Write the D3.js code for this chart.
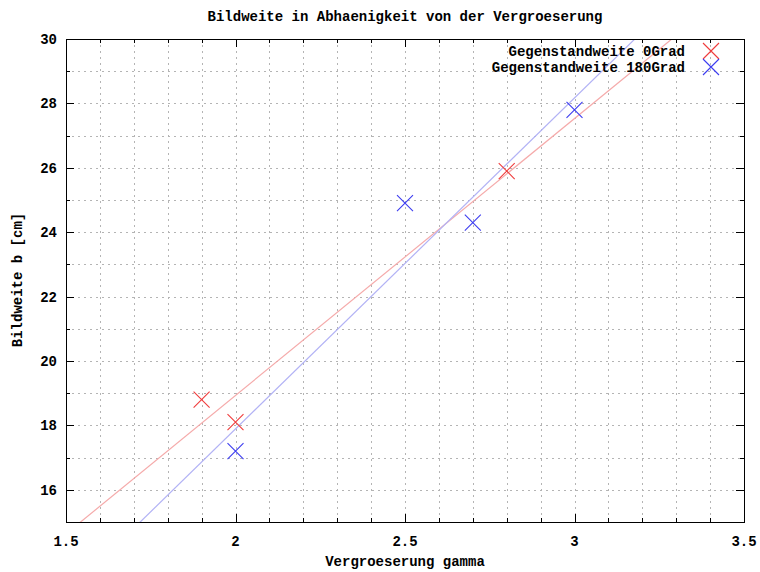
<!DOCTYPE html>
<html>
<head>
<meta charset="utf-8">
<script src="https://cdn.jsdelivr.net/npm/d3@7"></script>
<style>
  body { margin: 0; background: #fff; }
  text { font-family: "Liberation Mono", "DejaVu Sans Mono", monospace; font-weight: bold; font-size: 14px; fill: #000; }
  .grid line { stroke: #b4b4b4; stroke-width: 1; stroke-dasharray: 2,4; }
</style>
</head>
<body>
<svg id="chart" width="760" height="572"></svg>
<script>
// measured values (0 degree / 180 degree object distance)
const gamma0 = [1.9, 2.0, 2.8];
const bild0 = [18.8, 18.1, 25.9];
const gamma180 = [2.0, 2.5, 2.7, 3.0];
const bild180 = [17.2, 24.9, 24.3, 27.8];

// fitted lines: [slope, intercept]
const fit0 = [8.60, 1.73];
const fit180 = [10.28, -2.67];

const xTicks = [1.5, 2, 2.5, 3, 3.5];
const yTicks = [16, 18, 20, 22, 24, 26, 28, 30];

const seriesNames = ["Gegenstandweite 0Grad", "Gegenstandweite 180Grad"];

const svg = d3.select("#chart");
const mLeft = 66, mRight = 744, mTop = 39, mBottom = 522;

const x = d3.scaleLinear().domain([1.5, 3.5]).range([mLeft, mRight]);
const y = d3.scaleLinear().domain([15, 30]).range([mBottom, mTop]);

// grid at every minor tick
const xMinor = d3.range(16, 35).map(d => d / 10);
const yMinor = d3.range(16, 30);

const grid = svg.append("g").attr("class", "grid");
grid.selectAll("line.gx").data(xMinor).enter().append("line")
    .attr("x1", d => Math.round(x(d)) + 0.5).attr("x2", d => Math.round(x(d)) + 0.5)
    .attr("y1", mTop).attr("y2", mBottom);
grid.selectAll("line.gy").data(yMinor).enter().append("line")
    .attr("y1", d => Math.round(y(d)) + 0.5).attr("y2", d => Math.round(y(d)) + 0.5)
    .attr("x1", mLeft).attr("x2", mRight);

// tick marks on all four sides
const ticks = svg.append("g").attr("stroke", "#000").attr("stroke-width", 1);
xMinor.concat(xTicks).forEach(d => {
    const len = xTicks.includes(d) ? 8 : 4;
    const px = Math.round(x(d)) + 0.5;
    ticks.append("line").attr("x1", px).attr("x2", px).attr("y1", mBottom).attr("y2", mBottom - len);
    ticks.append("line").attr("x1", px).attr("x2", px).attr("y1", mTop).attr("y2", mTop + len);
});
yMinor.concat(yTicks).forEach(d => {
    const len = yTicks.includes(d) ? 8 : 4;
    const py = Math.round(y(d)) + 0.5;
    ticks.append("line").attr("y1", py).attr("y2", py).attr("x1", mLeft).attr("x2", mLeft + len);
    ticks.append("line").attr("y1", py).attr("y2", py).attr("x1", mRight).attr("x2", mRight - len);
});

// tick labels
svg.append("g").selectAll("text").data(xTicks).enter().append("text")
    .attr("x", d => x(d)).attr("y", 546)
    .attr("text-anchor", "middle")
    .text(d => d);
svg.append("g").selectAll("text").data(yTicks).enter().append("text")
    .attr("x", 57).attr("y", d => y(d) + 5)
    .attr("text-anchor", "end")
    .text(d => d);

// clip for the fit lines
svg.append("clipPath").attr("id", "plot")
    .append("rect").attr("x", mLeft).attr("y", mTop).attr("width", mRight - mLeft).attr("height", mBottom - mTop);

const line = d3.line().x(d => x(d[0])).y(d => y(d[1]));
function fitLine(f) {
    return [[1.5, f[0] * 1.5 + f[1]], [3.5, f[0] * 3.5 + f[1]]];
}
svg.append("path").attr("d", line(fitLine(fit0)))
    .attr("clip-path", "url(#plot)")
    .attr("fill", "none").attr("stroke", "#f5aaaa").attr("stroke-width", 1.2);
svg.append("path").attr("d", line(fitLine(fit180)))
    .attr("clip-path", "url(#plot)")
    .attr("fill", "none").attr("stroke", "#b2b2f5").attr("stroke-width", 1.2);

// cross markers
function cross(g, cx, cy, color) {
    const s = 8;
    g.append("path")
        .attr("d", `M${cx - s},${cy - s}L${cx + s},${cy + s}M${cx - s},${cy + s}L${cx + s},${cy - s}`)
        .attr("stroke", color).attr("stroke-width", 1.1).attr("fill", "none");
}
const marks = svg.append("g");
gamma0.forEach((g, i) => cross(marks, x(g), y(bild0[i]), "#f03c3c"));
gamma180.forEach((g, i) => cross(marks, x(g), y(bild180[i]), "#3c3cf0"));

// frame
svg.append("rect")
    .attr("x", mLeft + 0.5).attr("y", mTop + 0.5)
    .attr("width", mRight - mLeft).attr("height", mBottom - mTop)
    .attr("fill", "none").attr("stroke", "#000").attr("stroke-width", 1);

// legend
const legendColors = ["#f03c3c", "#3c3cf0"];
seriesNames.forEach((name, i) => {
    const ly = 51 + i * 16;
    svg.append("text").attr("x", 685).attr("y", ly + 5)
        .attr("text-anchor", "end").text(name);
    cross(svg, 711, ly, legendColors[i]);
});

// titles
svg.append("text").attr("x", 405).attr("y", 21).attr("text-anchor", "middle")
    .text("Bildweite in Abhaenigkeit von der Vergroeserung");
svg.append("text").attr("x", 405).attr("y", 566).attr("text-anchor", "middle")
    .text("Vergroeserung gamma");
svg.append("text")
    .attr("transform", "translate(22,280) rotate(-90)")
    .attr("text-anchor", "middle")
    .text("Bildweite b [cm]");
</script>
</body>
</html>
